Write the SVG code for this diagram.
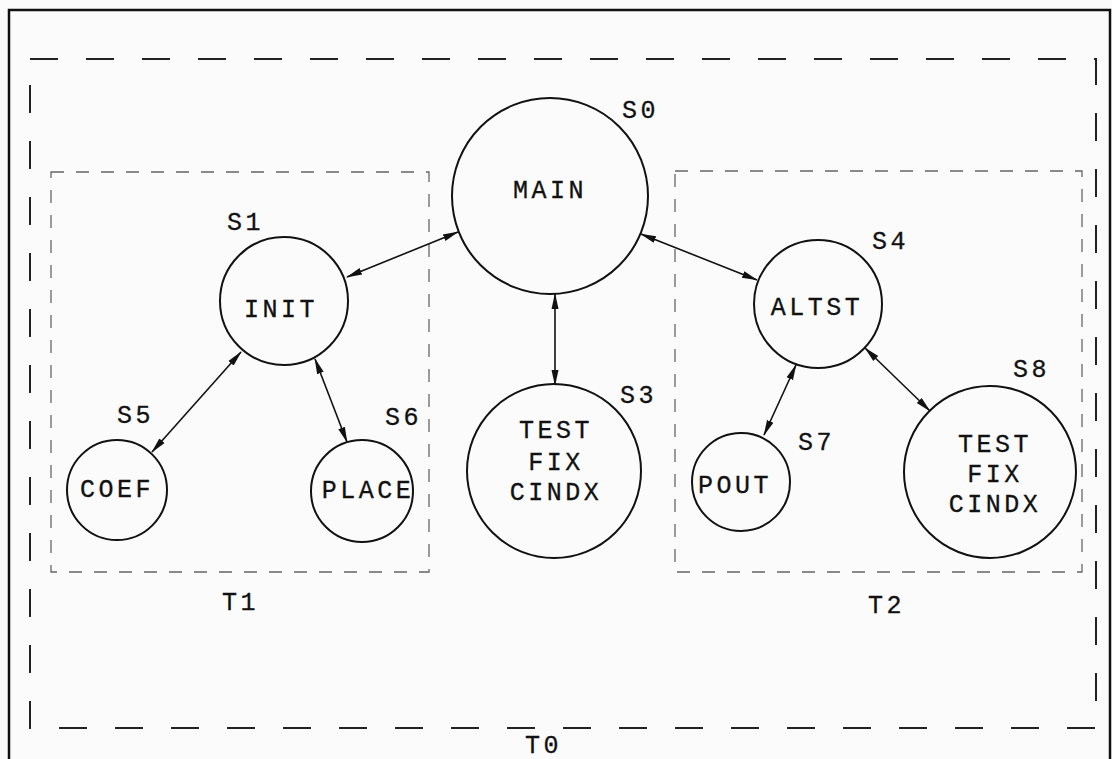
<svg xmlns="http://www.w3.org/2000/svg" width="1112" height="759" viewBox="0 0 1112 759">
<style>
.node{fill:none;stroke:#111;stroke-width:2}
.lbl{font-family:"Liberation Mono","DejaVu Sans Mono",monospace;font-size:25px;letter-spacing:3.5px;fill:#111;stroke:#111;stroke-width:0.3}
.c{text-anchor:middle}
.conn{stroke:#111;stroke-width:1.6;fill:none;marker-start:url(#ah);marker-end:url(#ah)}
.t0{fill:none;stroke:#222;stroke-width:2;stroke-dasharray:28 28}
.tx{fill:none;stroke:#666;stroke-width:1.3;stroke-dasharray:13 12}
</style>
<defs>
<marker id="ah" markerUnits="userSpaceOnUse" markerWidth="16" markerHeight="9" refX="15" refY="4.5" orient="auto-start-reverse" viewBox="0 0 16 9">
<path d="M0,1 L16,4.5 L0,8 Z" fill="#111"/>
</marker>
</defs>
<rect width="1112" height="759" fill="#fbfbfb"/>
<path d="M9,759 L9,10 L1110,10 L1110,759" fill="none" stroke="#111" stroke-width="2.5"/>
<g id="T0"><rect class="t0" x="30" y="59" width="1066" height="669"/><text class="lbl" x="525" y="753">T0</text></g>
<g id="T1"><rect class="tx" x="51" y="172" width="378" height="400"/><text class="lbl" x="222" y="610">T1</text></g>
<g id="T2"><rect class="tx" x="675" y="171" width="407" height="401"/><text class="lbl" x="868" y="613">T2</text></g>
<g id="connectors">
<line class="conn" x1="347" y1="277" x2="458" y2="232"/>
<line class="conn" x1="555" y1="294" x2="555" y2="385"/>
<line class="conn" x1="641" y1="234" x2="757" y2="280"/>
<line class="conn" x1="241" y1="352" x2="152" y2="452"/>
<line class="conn" x1="315" y1="359" x2="347" y2="442"/>
<line class="conn" x1="796" y1="365" x2="764" y2="435"/>
<line class="conn" x1="865" y1="348" x2="930" y2="411"/>
</g>
<g id="S0"><circle class="node" cx="550" cy="196" r="98"/><text class="lbl c" x="550" y="198">MAIN</text><text class="lbl" x="622" y="118">S0</text></g>
<g id="S1"><circle class="node" cx="284" cy="301" r="64"/><text class="lbl c" x="281" y="317">INIT</text><text class="lbl" x="227" y="230">S1</text></g>
<g id="S3"><circle class="node" cx="554" cy="471" r="87"/><text class="lbl c" x="556" y="438">TEST</text><text class="lbl c" x="556" y="470">FIX</text><text class="lbl c" x="556" y="500">CINDX</text><text class="lbl" x="620" y="403">S3</text></g>
<g id="S4"><circle class="node" cx="818" cy="304" r="64"/><text class="lbl c" x="817" y="315">ALTST</text><text class="lbl" x="872" y="249">S4</text></g>
<g id="S5"><circle class="node" cx="117" cy="490" r="50"/><text class="lbl c" x="117" y="497">COEF</text><text class="lbl" x="117" y="423">S5</text></g>
<g id="S6"><circle class="node" cx="362" cy="491" r="51"/><text class="lbl c" x="368" y="498">PLACE</text><text class="lbl" x="385" y="425">S6</text></g>
<g id="S7"><circle class="node" cx="741" cy="482" r="49"/><text class="lbl c" x="735" y="493">POUT</text><text class="lbl" x="798" y="450">S7</text></g>
<g id="S8"><circle class="node" cx="990" cy="472" r="86"/><text class="lbl c" x="995" y="452">TEST</text><text class="lbl c" x="995" y="482">FIX</text><text class="lbl c" x="995" y="512">CINDX</text><text class="lbl" x="1013" y="377">S8</text></g>
</svg>
